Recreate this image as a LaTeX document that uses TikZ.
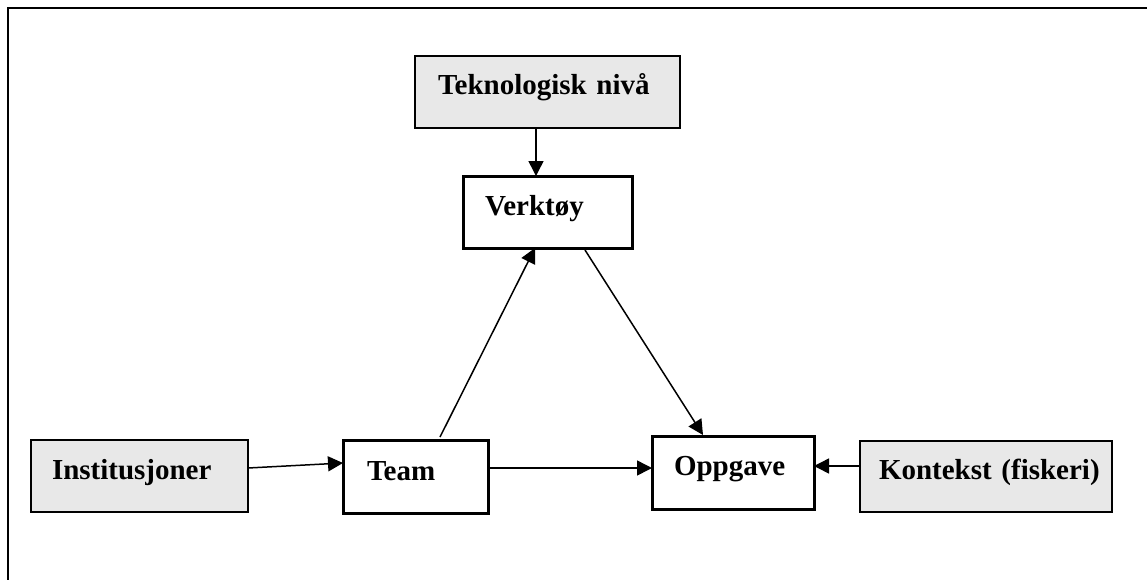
\documentclass[tikz,border=0pt]{standalone}
\usepackage{fontspec}
\setmainfont{Liberation Serif}
\usetikzlibrary{arrows.meta}
\definecolor{boxgray}{RGB}{232,232,232}
\tikzset{
    RA1/.style ={rectangle,draw,line width=0.75pt,fill=boxgray,outer sep=0pt,inner ysep=0pt,align=left,anchor=north west,font=\fontsize{14.5}{17}\selectfont\bfseries},
    RA2/.style ={rectangle,draw,line width=1.5pt,fill=white,outer sep=0pt,inner ysep=0pt,align=left,anchor=north west,font=\fontsize{14.5}{17}\selectfont\bfseries},
    AR/.style ={-{Triangle[length=7.5pt,width=7.5pt]},line width=0.75pt}}

\begin{document}
\begin{tikzpicture}[x=0.5pt,y=-0.5pt]
        \useasboundingbox (0,0) rectangle (1147,580);
        \draw[line width=1.3pt] (1147,8) -- (8,8) -- (8,580);
        \node[RA1,inner xsep=11.5pt,text width=109.5pt,text height=19pt,text depth=17pt] (tek) at(415,56){Teknologisk~nivå};
        \node[RA2,inner xsep=11pt,text width=62.5pt,text height=19.5pt,text depth=16.5pt] (verk) at(463,176){Verktøy};
        \node[RA1,inner xsep=10.5pt,text width=87.5pt,text height=19.5pt,text depth=16.5pt] (inst) at(31,440){Institusjoner};
        \node[RA2,inner xsep=12pt,text width=48.5pt,text height=20pt,text depth=16.5pt] (team) at(343,440){Team};
        \node[RA2,inner xsep=11pt,text width=59pt,text height=19.5pt,text depth=17pt] (oppg) at(652,436){Oppgave};
        \node[RA1,inner xsep=9.5pt,text width=107pt,text height=19pt,text depth=16.5pt] (kont) at(860,441){Kontekst~(fiskeri)};
        \draw[AR] ([shift={(-11.5,0)}]tek.south) -- ([shift={(-11.5,0)}]verk.north);
        \draw[AR] ([shift={(0,-8)}]inst.east) -- ([shift={(0,-13.5)}]team.west);
        \draw[AR] ([shift={(0,-8.5)}]team.east) -- ([shift={(0,-4.5)}]oppg.west);
        \draw[AR] ([shift={(0,-10.5)}]kont.west) -- ([shift={(0,-6.5)}]oppg.east);
        \draw[AR] ([shift={(24.5,-3)}]team.north) -- ([shift={(-12.5,0)}]verk.south);
        \draw[AR] ([shift={(37.5,2)}]verk.south) -- ([shift={(-30,-1)}]oppg.north);
    \end{tikzpicture}
\end{document}
